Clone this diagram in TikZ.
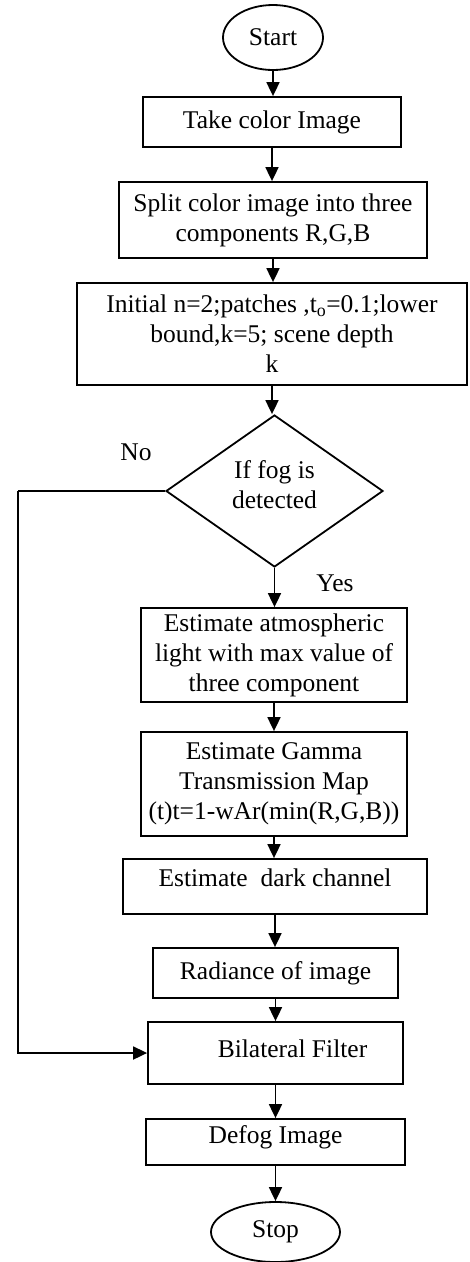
\documentclass[tikz,border=0pt]{standalone}
\usepackage{fontspec}
\setmainfont{Liberation Serif}
\usetikzlibrary{shapes.geometric,arrows.meta}
\begin{document}
\begin{tikzpicture}[x=1pt,y=-1pt,
  every node/.style={font=\fontsize{25.5}{30}\selectfont, text=black},
  box/.style={draw, line width=1.8pt, rectangle, inner sep=0pt, align=center},
  term/.style={draw, line width=1.8pt, ellipse, inner sep=0pt},
  dec/.style={draw, line width=1.8pt, diamond, inner sep=0pt, align=center},
  arr/.style={line width=1.8pt, -{Triangle[length=14pt,width=13pt]}},
  plain/.style={line width=1.8pt}]
\useasboundingbox (0,0) rectangle (469,1262);
\node[term, minimum width=100pt, minimum height=65pt] (start) at (273,37.5) {Start};
\node[box, minimum width=258pt, minimum height=50pt] (take) at (272,122) {Take color Image};
\node[box, minimum width=308pt, minimum height=76pt] (split) at (273,220) {Split color image into three\\components R,G,B};
\node[box, minimum width=390pt, minimum height=102pt] (init) at (272,334) {Initial n=2;patches ,t\textsubscript{o}=0.1;lower\\bound,k=5; scene depth\\k};
\node[dec, minimum width=217pt, minimum height=152pt] (dia) at (274.5,491) {};
\node[align=center] at (274.5,485) {If fog is\\detected};
\node[box, minimum width=266pt, minimum height=94pt] (atm) at (274,655) {Estimate atmospheric\\light with max value of\\three component};
\node[box, minimum width=266pt, minimum height=104pt] (gam) at (274,784) {Estimate Gamma\\Transmission Map\\(t)t=1-wAr(min(R,G,B))};
\node[box, minimum width=304pt, minimum height=55pt] (dark) at (275,886.5) {};
\node at ([yshift=9pt]dark.center) {Estimate\ \ dark channel};
\node[box, minimum width=245pt, minimum height=50pt] (rad) at (275.5,973) {Radiance of image};
\node[box, minimum width=255pt, minimum height=62pt] (bil) at (275.5,1053) {};
\node at ([shift={(17pt,4pt)}]bil.center) {Bilateral Filter};
\node[box, minimum width=259pt, minimum height=46pt] (def) at (275.5,1142) {};
\node at ([yshift=5pt]def.center) {Defog Image};
\node[term, minimum width=129pt, minimum height=60pt] (stop) at (275.5,1232) {Stop};
\node (no) at (136,452) {No};
\node (yes) at (335,583) {Yes};
\draw[arr] (start.south) -- (start.south |- take.north);
\draw[arr] (take.south) -- (take.south |- split.north);
\draw[arr] (split.south) -- (split.south |- init.north);
\draw[arr] (init.south) -- (init.south |- dia.north);
\draw[arr] (dia.south) -- (dia.south |- atm.north);
\draw[arr] (atm.south) -- (atm.south |- gam.north);
\draw[arr] (gam.south) -- (gam.south |- dark.north);
\draw[arr] (dark.south) -- (dark.south |- rad.north);
\draw[arr] (rad.south) -- (rad.south |- bil.north);
\draw[arr] (bil.south) -- (bil.south |- def.north);
\draw[arr] (def.south) -- (def.south |- stop.north);
\coordinate (corner) at (18,491);
\draw[plain] (dia.west) -- (corner);
\draw[arr] (corner) |- (bil.west);
\end{tikzpicture}
\end{document}
